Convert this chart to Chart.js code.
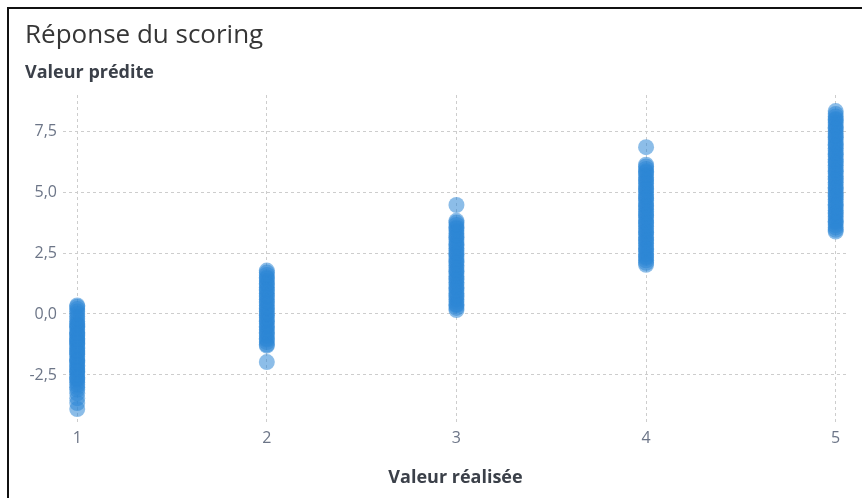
<!DOCTYPE html>
<html lang="fr">
<head>
<meta charset="utf-8">
<title>Réponse du scoring</title>
<script src="https://cdn.jsdelivr.net/npm/chart.js@4/dist/chart.umd.min.js"></script>
<style>
  html, body { margin: 0; padding: 0; background: #ffffff; }
  #wrap { position: relative; width: 862px; height: 498px; overflow: hidden; }
  #frame {
    position: absolute; left: 7px; top: 7px; width: 900px; height: 540px;
    border-top: 2px solid #111; border-left: 2px solid #111; pointer-events: none;
  }
  canvas { display: block; }
</style>
</head>
<body>
<div id="wrap">
  <canvas id="chart" width="862" height="498"></canvas>
  <div id="frame"></div>
</div>
<script>
// Realised values (x axis categories)
const categories = [1, 2, 3, 4, 5];

// Predicted values observed for each realised value
const predicted1 = [0.35, 0.3, 0.2, 0.1, 0.0, -0.1, -0.2, -0.3, -0.4, -0.45, -0.5, -0.55, -0.65, -0.75,
  -0.8, -0.85, -0.9, -1.0, -1.05, -1.1, -1.15, -1.2, -1.25, -1.35, -1.4, -1.5, -1.55, -1.6, -1.65,
  -1.75, -1.85, -1.9, -1.95, -2.0, -2.1, -2.15, -2.25, -2.3, -2.35, -2.4, -2.5, -2.6, -2.65, -2.7,
  -2.8, -2.9, -3.0, -3.1, -3.25, -3.45, -3.65, -3.9];
const predicted2 = [1.78, 1.7, 1.6, 1.5, 1.45, 1.35, 1.25, 1.2, 1.1, 1.0, 0.95, 0.85, 0.75, 0.7, 0.6,
  0.5, 0.45, 0.35, 0.25, 0.2, 0.1, 0.0, -0.05, -0.15, -0.25, -0.3, -0.4, -0.5, -0.55, -0.65, -0.75,
  -0.8, -0.9, -1.0, -1.05, -1.15, -1.25, -1.3, -1.97];
const predicted3 = [4.47, 3.82, 3.75, 3.65, 3.55, 3.5, 3.4, 3.3, 3.2, 3.15, 3.05, 2.95, 2.85, 2.8,
  2.7, 2.6, 2.5, 2.45, 2.35, 2.25, 2.15, 2.1, 2.0, 1.9, 1.8, 1.75, 1.65, 1.55, 1.45, 1.4, 1.3,
  1.2, 1.1, 1.05, 0.95, 0.85, 0.75, 0.7, 0.6, 0.5, 0.4, 0.35, 0.25, 0.16];
const predicted4 = [6.84, 6.12, 6.05, 5.95, 5.85, 5.8, 5.7, 5.6, 5.5, 5.45, 5.35, 5.25, 5.15, 5.1,
  5.0, 4.9, 4.8, 4.75, 4.65, 4.55, 4.45, 4.4, 4.3, 4.2, 4.1, 4.05, 3.95, 3.85, 3.75, 3.7, 3.6,
  3.5, 3.4, 3.35, 3.25, 3.15, 3.05, 3.0, 2.9, 2.8, 2.7, 2.65, 2.55, 2.45, 2.35, 2.3, 2.2, 2.1, 2.02];
const predicted5 = [8.32, 8.2, 8.1, 8.0, 7.95, 7.85, 7.75, 7.65, 7.6, 7.5, 7.4, 7.3, 7.25, 7.15,
  7.05, 6.95, 6.9, 6.8, 6.7, 6.6, 6.55, 6.45, 6.35, 6.25, 6.2, 6.1, 6.0, 5.9, 5.85, 5.75, 5.65,
  5.55, 5.5, 5.4, 5.3, 5.2, 5.15, 5.05, 4.95, 4.85, 4.8, 4.7, 4.6, 4.5, 4.45, 4.35, 4.25, 4.15,
  4.1, 4.0, 3.9, 3.8, 3.75, 3.65, 3.55, 3.45, 3.38];

const predictedByCategory = [predicted1, predicted2, predicted3, predicted4, predicted5];

// Y axis ticks and their French labels
const yTickValues = [-2.5, 0, 2.5, 5, 7.5];
const yTickLabels = ['-2,5', '0,0', '2,5', '5,0', '7,5'];

const points = [];
categories.forEach((cat, i) => {
  predictedByCategory[i].forEach(v => points.push({ x: cat, y: v }));
});

const fontFamily = '"Open Sans", "Noto Sans", sans-serif';
const gridColor = '#cdcdcd';

new Chart(document.getElementById('chart'), {
  type: 'scatter',
  data: {
    datasets: [{
      label: 'Valeur prédite',
      data: points,
      backgroundColor: 'rgba(45, 134, 213, 0.55)',
      borderWidth: 0,
      pointRadius: 8,
      pointHoverRadius: 8
    }]
  },
  options: {
    responsive: false,
    animation: false,
    layout: { padding: { left: 25, right: 14, top: 0, bottom: 0 } },
    plugins: {
      legend: { display: false },
      tooltip: { enabled: false },
      title: {
        display: true,
        text: 'Réponse du scoring',
        align: 'start',
        color: '#363636',
        font: { family: fontFamily, size: 26, weight: 'normal', lineHeight: 1.2 },
        padding: { top: 20, bottom: 2 }
      },
      subtitle: {
        display: true,
        text: 'Valeur prédite',
        align: 'start',
        color: '#3b4049',
        font: { family: fontFamily, size: 18, weight: 'bold', lineHeight: 1.2 },
        padding: { top: 9, bottom: 11.2 }
      }
    },
    scales: {
      x: {
        type: 'linear',
        min: 0.925,
        max: 5.065,
        afterBuildTicks: s => { s.ticks = categories.map(v => ({ value: v })); },
        afterFit: s => { s.height = 75; },
        ticks: {
          color: '#6c7587',
          font: { family: fontFamily, size: 16 },
          padding: 6,
          callback: v => String(v)
        },
        grid: { color: gridColor, lineWidth: 1, drawTicks: false },
        border: { display: false, dash: [3, 3] },
        title: {
          display: true,
          text: 'Valeur réalisée',
          color: '#3b4049',
          font: { family: fontFamily, size: 18, weight: 'bold', lineHeight: 1.2 },
          padding: { top: 4, bottom: 9 }
        }
      },
      y: {
        type: 'linear',
        min: -4.47,
        max: 8.98,
        afterBuildTicks: s => { s.ticks = yTickValues.map(v => ({ value: v })); },
        afterFit: s => { s.width = 38; },
        ticks: {
          color: '#6c7587',
          font: { family: fontFamily, size: 16 },
          padding: 6,
          callback: v => yTickLabels[yTickValues.indexOf(v)]
        },
        grid: { color: gridColor, lineWidth: 1, drawTicks: false },
        border: { display: false, dash: [3, 3] }
      }
    }
  }
});
</script>
</body>
</html>
